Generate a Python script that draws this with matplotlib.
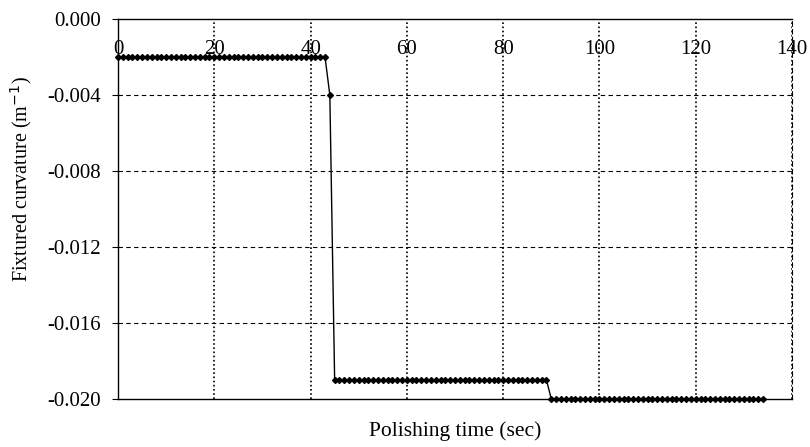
import matplotlib
matplotlib.use("Agg")
import matplotlib.pyplot as plt

plt.rcParams['font.family'] = ['Liberation Serif', 'DejaVu Serif']

# Data (time in sec, curvature in 1/m)
time_seg1 = list(range(0, 44))
curv_seg1 = [-0.002] * len(time_seg1)
time_seg2 = [44]
curv_seg2 = [-0.004]
time_seg3 = list(range(45, 90))
curv_seg3 = [-0.019] * len(time_seg3)
time_seg4 = list(range(90, 135))
curv_seg4 = [-0.020] * len(time_seg4)

time = time_seg1 + time_seg2 + time_seg3 + time_seg4
curvature = curv_seg1 + curv_seg2 + curv_seg3 + curv_seg4

x_ticks = [0, 20, 40, 60, 80, 100, 120, 140]
y_ticks = [0.000, -0.004, -0.008, -0.012, -0.016, -0.020]
y_ticklabels = ["0.000", "-0.004", "-0.008", "-0.012", "-0.016", "-0.020"]

FS = 15

fig = plt.figure(figsize=(8.10, 4.47), dpi=100)
ax = fig.add_axes([118/810, 1 - 399/447, (792-118)/810, (399-19)/447])

ax.set_xlim(0, 140)
ax.set_ylim(-0.020, 0.000)

# gridlines
for xv in x_ticks[1:]:
    ax.axvline(xv, color='black', lw=1.2, ls=(0, (1, 1.5)), zorder=1)
for yv in y_ticks[1:-1]:
    ax.axhline(yv, color='black', lw=0.8, ls=(0, (4, 3)), zorder=1)

ax.plot(time, curvature, color='black', lw=1.0, marker='D', ms=3.0,
        mfc='black', mec='black', zorder=3, clip_on=False)

ax.set_yticks(y_ticks)
ax.set_yticklabels(y_ticklabels, fontsize=FS)
ax.tick_params(axis='y', direction='out', length=4, width=0.8, pad=8)
ax.set_xticks([])

# x tick labels placed where the horizontal axis crosses (-0.002)
for xv in x_ticks:
    ax.text(xv, -0.00212, str(xv), ha='center', va='bottom', fontsize=FS,
            zorder=4)

for s in ['top', 'bottom', 'left']:
    ax.spines[s].set_linewidth(1.0)
ax.spines['right'].set_linestyle((0, (4, 3)))
ax.spines['right'].set_linewidth(0.8)

ax.set_xlabel("Polishing time (sec)", fontsize=15.5, labelpad=16)
ax.set_ylabel("Fixtured curvature (m$^{-1}$)", fontsize=14.5)
ax.yaxis.set_label_coords(-0.125, 0.58)

fig.savefig("out.png", dpi=100)
